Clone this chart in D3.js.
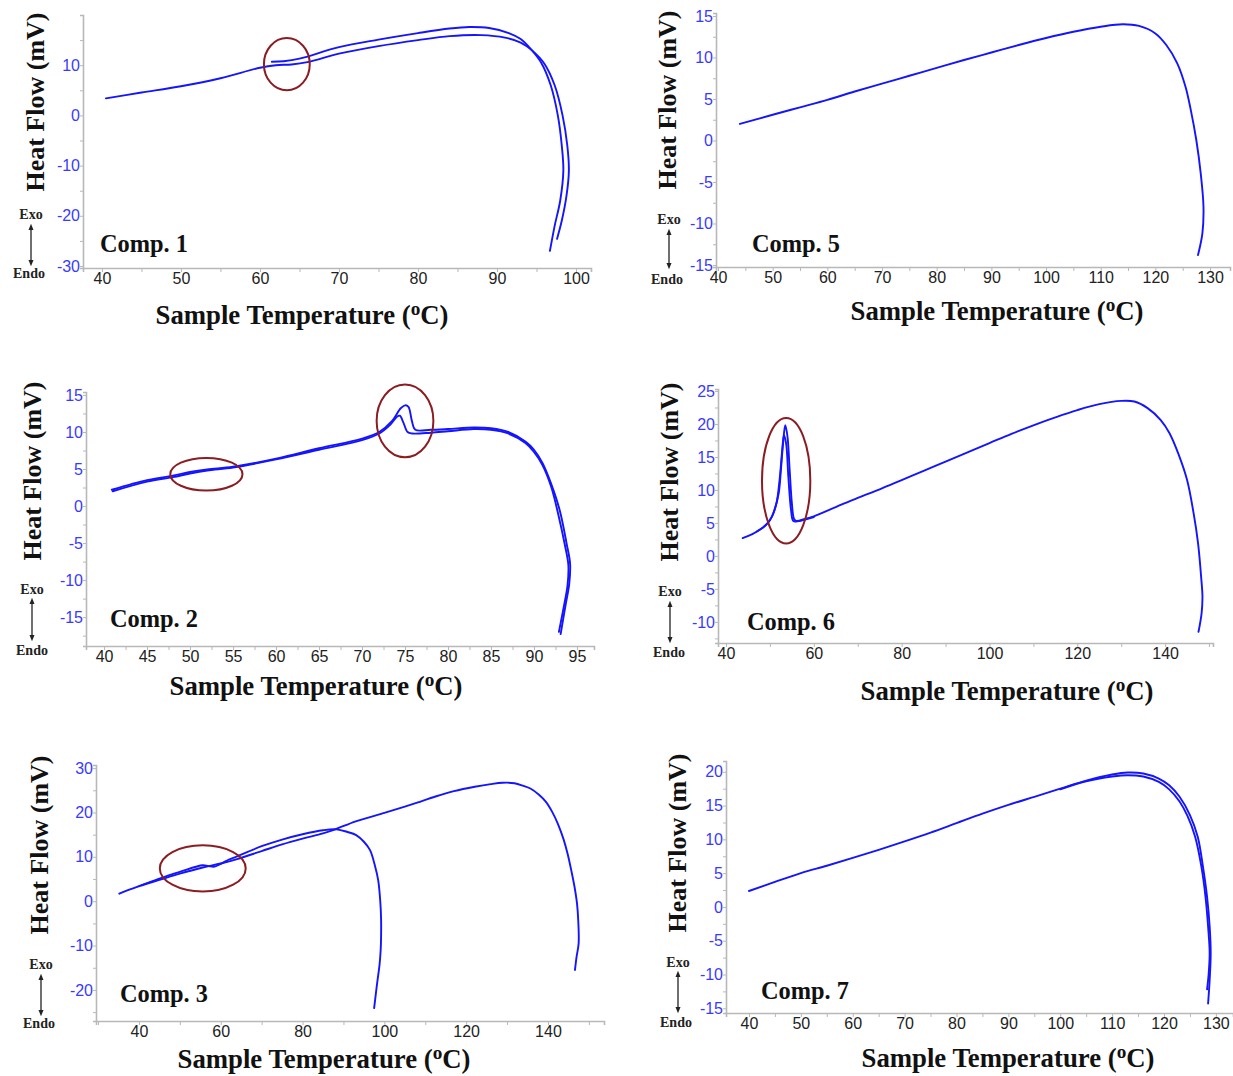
<!DOCTYPE html>
<html><head><meta charset="utf-8">
<script src="https://cdn.jsdelivr.net/npm/d3@7"></script>
<style>body{margin:0;background:#fff}</style>
</head><body>
<svg id="c" width="1233" height="1076"></svg>
<script>
// ---------------- DATA ----------------
// Comp. 1
const comp1XTicks = [40,50,60,70,80,90,100];
const comp1YTicks = [-30,-20,-10,0,10];
const comp1RunA = [[40.5,3.4],[45,4.55],[50,5.8],[55,7.4],[60,9.5],[62,10.0],[64,10.15],[66,10.6],[70,12.3],[75,13.8],[80,15.0],[84,15.8],[88,16.0],[91,15.5],[93,14.5],[94.4,13],[96,10.3],[97.3,6],[98.3,0],[98.9,-6],[99.1,-11],[98.8,-16],[98.2,-21],[97.6,-24.6]];
const comp1RunB = [[61.5,10.7],[63,10.8],[65,11.3],[70,13.6],[75,15.1],[80,16.4],[84,17.3],[86.5,17.6],[89,17.4],[91.5,16.4],[93,15.2],[94.4,13],[95.6,10.5],[96.8,6],[97.7,0],[98.2,-6],[98.4,-11],[98.0,-17],[97.3,-22],[96.7,-27]];
const comp1Marks = [[63.4,10.2,2.9,5.2]];

// Comp. 5
const comp5XTicks = [40,50,60,70,80,90,100,110,120,130];
const comp5YTicks = [-15,-10,-5,0,5,10,15];
const comp5RunA = [[44,2.0],[50,3.1],[55,4.0],[60,4.9],[65,5.9],[70,6.85],[75,7.8],[80,8.75],[85,9.7],[90,10.6],[95,11.5],[100,12.35],[105,13.1],[110,13.7],[114,14.0],[117,13.8],[120,12.9],[122,11.5],[124,9.3],[125.5,6.5],[126.5,3.6],[127.5,0],[128.3,-4],[128.8,-8],[128.6,-11.2],[127.8,-13.8]];
const comp5Marks = [];

// Comp. 2
const comp2XTicks = [40,45,50,55,60,65,70,75,80,85,90,95];
const comp2YTicks = [-15,-10,-5,0,5,10,15];
const comp2RunA = [[40.9,2.2],[45,3.5],[48,4.1],[50,4.6],[52,4.95],[55,5.3],[60,6.4],[65,7.8],[70,9.1],[72,10.0],[73.5,11.5],[74.5,13.2],[75,13.6],[75.4,13.4],[75.8,11.5],[76.2,10.3],[78,10.3],[80,10.4],[83,10.6],[85,10.5],[87,10.0],[89,8.7],[90,7.6],[91,5.8],[92,3.0],[93,-0.6],[93.8,-5.1],[94.2,-7.8],[94.1,-10.5],[93.7,-13.2],[93.1,-17.3]];
const comp2RunB = [[41,2.0],[45,3.3],[48,3.9],[50,4.4],[52,4.8],[55,5.2],[60,6.3],[65,7.6],[70,8.9],[72,9.8],[73.3,11],[74.1,12.1],[74.4,12.2],[74.8,11.3],[75.3,10.0],[75.8,9.8],[78,9.9],[80,10.1],[83,10.4],[85,10.3],[87,9.8],[89,8.5],[90,7.3],[91,5.5],[92,2.6],[92.8,-1],[93.6,-5.3],[94.0,-8],[93.9,-10.7],[93.5,-13.4],[92.9,-17.0]];
const comp2Marks = [[51.9,4.3,4.2,2.2],[75.0,11.5,3.3,4.9]];

// Comp. 6
const comp6XTicks = [40,60,80,100,120,140];
const comp6YTicks = [-10,-5,0,5,10,15,20,25];
const comp6RunA = [[43.8,2.7],[46,3.3],[48,4.1],[50,5.4],[51,6.9],[52,9.5],[52.5,13.0],[53,17.1],[53.5,19.8],[54,18.1],[54.5,13.0],[55,8.0],[55.5,5.6],[56,5.3],[58,5.6],[60,6.0],[65,7.4],[70,8.8],[75,10.1],[80,11.5],[85,12.9],[90,14.3],[95,15.7],[100,17.1],[105,18.5],[110,19.8],[115,21.0],[120,22.1],[125,23.0],[130,23.5],[133,23.4],[136,22.4],[139,20.6],[141,18.6],[143,15.5],[145,11.5],[146.5,6.4],[147.5,1.9],[148.2,-3.2],[148.5,-6.2],[148.3,-8.7],[147.6,-11.5]];
const comp6RunB = [[47,3.7],[49,4.6],[50.5,6.0],[51.5,8.0],[52.2,11.5],[52.8,16.0],[53.2,18.3],[53.7,17.0],[54.2,12.0],[54.8,7.0],[55.3,5.3],[56,5.2],[58,5.5],[60,5.9]];
const comp6Marks = [[53.7,11.4,5.5,9.5]];

// Comp. 3
const comp3XTicks = [40,60,80,100,120,140];
const comp3YTicks = [-20,-10,0,10,20,30];
const comp3RunA = [[35.2,1.7],[38,2.7],[40.7,3.6],[45,5.1],[50,6.6],[55.6,8.1],[57,7.9],[58.5,7.8],[60,8.4],[62,9.4],[64,10.1],[70,12.4],[75,13.9],[80,15.1],[85,16.0],[88.3,16.2],[91,15.6],[93.1,14.9],[95,13.4],[96.5,11.5],[97.7,8],[98.5,4.7],[99.0,0],[99.2,-4],[99.2,-8],[99.1,-11],[98.8,-14.5],[98.3,-18],[97.9,-21],[97.5,-24.1]];
const comp3RunB = [[40.7,3.6],[45,4.8],[50,6.2],[55.6,7.6],[60,8.5],[64,9.5],[70,11.3],[75,12.8],[80,14.1],[85,15.3],[88,16.2],[93,18.0],[100,19.9],[105,21.3],[108,22.2],[112.5,23.6],[117,24.8],[122.1,25.8],[126,26.4],[128.9,26.7],[131.8,26.6],[134,26.0],[135.7,25.4],[137.8,24.0],[139.5,22.4],[141,20.2],[142.4,17.5],[143.8,14],[144.8,10.7],[145.8,6.5],[146.5,3.2],[147.1,-0.5],[147.4,-4.3],[147.5,-9.5],[147.0,-12.5],[146.6,-15.5]];
const comp3Marks = [[55.6,7.4,10.5,5.2]];

// Comp. 7
const comp7XTicks = [40,50,60,70,80,90,100,110,120,130];
const comp7YTicks = [-15,-10,-5,0,5,10,15,20];
const comp7RunA = [[40,2.36],[45,3.7],[50,5.0],[55,6.1],[60,7.25],[65,8.45],[70,9.7],[75,11.0],[80,12.4],[85,13.8],[90,15.1],[95,16.3],[100,17.5],[105,18.7],[110,19.6],[113,19.9],[116,19.75],[119,19.0],[121,18.0],[123,16.3],[125,13.6],[126.5,10.4],[127.5,6.0],[128.3,1.5],[128.8,-2.9],[129,-6.9],[128.8,-10.8],[128.5,-14.3]];
const comp7RunB = [[100,17.4],[105,18.6],[110,19.3],[113,19.5],[116,19.3],[119,18.5],[121,17.4],[123,15.6],[124.5,13.5],[126,10.4],[127.2,6.0],[128,1.5],[128.5,-2.9],[128.8,-6.9],[128.6,-10.0],[128.3,-12.2]];
const comp7Marks = [];

const panelNames = ["Comp. 1","Comp. 5","Comp. 2","Comp. 6","Comp. 3","Comp. 7"];
const yTitle = "Heat Flow (mV)";
const xTitleMain = "Sample Temperature (";
const xTitleSup = "o";
const xTitleEnd = "C)";

// ---------------- LAYOUT ----------------
const panels = [
  {name:panelNames[0], runs:[comp1RunA,comp1RunB], xt:comp1XTicks, yt:comp1YTicks, marks:comp1Marks,
   xd:[37.6,101.9], xr:[83,591], yd:[-30.4,20], yr:[268,15], xMinor:5, yMinor:5,
   yTitle:[35,102], xTitle:[302,324], comp:[100,252], exo:[31,219], endo:[29,278], arrow:[225,265]},
  {name:panelNames[1], runs:[comp5RunA], xt:comp5XTicks, yt:comp5YTicks, marks:comp5Marks,
   xd:[39.63,133.65], xr:[716,1230], yd:[-15.24,15.36], yr:[267,13], xMinor:5, yMinor:2.5,
   yTitle:[667,100], xTitle:[997,320], comp:[752,252], exo:[669,224], endo:[667,284], arrow:[230,268]},
  {name:panelNames[2], runs:[comp2RunA,comp2RunB], xt:comp2XTicks, yt:comp2YTicks, marks:comp2Marks,
   xd:[37.9,96.98], xr:[86,594], yd:[-18.9,15.4], yr:[646,392], xMinor:2.5, yMinor:2.5,
   yTitle:[32,471], xTitle:[316,695], comp:[110,627], exo:[32,594], endo:[32,655], arrow:[599,640]},
  {name:panelNames[3], runs:[comp6RunA,comp6RunB], xt:comp6XTicks, yt:comp6YTicks, marks:comp6Marks,
   xd:[38.18,150.9], xr:[718,1213], yd:[-13.2,25.3], yr:[643,389], xMinor:10, yMinor:2.5,
   yTitle:[669,472], xTitle:[1007,700], comp:[747,630], exo:[670,596], endo:[669,657], arrow:[602,642]},
  {name:panelNames[4], runs:[comp3RunA,comp3RunB], xt:comp3XTicks, yt:comp3YTicks, marks:comp3Marks,
   xd:[29.5,153.7], xr:[96,604], yd:[-27,30.7], yr:[1021,765], xMinor:10, yMinor:5,
   yTitle:[39,845], xTitle:[324,1068], comp:[120,1002], exo:[41,969], endo:[39,1028], arrow:[975,1015]},
  {name:panelNames[5], runs:[comp7RunA,comp7RunB], xt:comp7XTicks, yt:comp7YTicks, marks:comp7Marks,
   xd:[35.57,133.3], xr:[726,1233], yd:[-15.7,21.6], yr:[1013,761], xMinor:5, yMinor:2.5,
   yTitle:[677,843], xTitle:[1008,1067], comp:[761,999], exo:[678,967], endo:[676,1027], arrow:[972,1012]}
];

const svg = d3.select("#c");
const serif = "'Liberation Serif','Times New Roman',serif";
const sans = "'Liberation Sans',Arial,sans-serif";
const lineColor = "#1414ff";
const tickBlue = "#3a3aff";
const axisGray = "#b8b8b8";

svg.append("defs").append("marker").attr("id","ah").attr("viewBox","0 0 10 10")
  .attr("refX",5).attr("refY",5).attr("markerWidth",5).attr("markerHeight",6).attr("orient","auto-start-reverse")
  .append("path").attr("d","M0,1 L10,5 L0,9 Z").attr("fill","#222");

function fitWidth(sel, target){
  const w = sel.node().getBBox().width;
  const fs = parseFloat(sel.attr("font-size"));
  sel.attr("font-size", fs*target/w);
}
const fmt = d => String(d);

panels.forEach(p => {
  const x = d3.scaleLinear().domain(p.xd).range(p.xr);
  const y = d3.scaleLinear().domain(p.yd).range(p.yr);
  const g = svg.append("g");

  // minor ticks
  const xMin = d3.range(Math.ceil(p.xd[0]/p.xMinor)*p.xMinor, p.xd[1]+1e-9, p.xMinor);
  const yMin = d3.range(Math.ceil(p.yd[0]/p.yMinor)*p.yMinor, p.yd[1]+1e-9, p.yMinor);
  const xAx = d3.axisBottom(x).tickValues(xMin).tickSize(4).tickFormat("");
  const yAx = d3.axisLeft(y).tickValues(yMin).tickSize(3).tickFormat("");
  const gx = g.append("g").attr("transform",`translate(0,${p.yr[0]})`).call(xAx);
  const gy = g.append("g").attr("transform",`translate(${p.xr[0]},0)`).call(yAx);
  [gx,gy].forEach(a=>{
    a.selectAll("path").attr("stroke",axisGray).attr("stroke-width",1.6);
    a.selectAll("line").attr("stroke",axisGray).attr("stroke-width",1);
  });
  // labels
  const gxl = g.append("g").attr("transform",`translate(0,${p.yr[0]})`)
    .call(d3.axisBottom(x).tickValues(p.xt).tickSize(0).tickPadding(5).tickFormat(fmt));
  gxl.select(".domain").remove();
  gxl.selectAll("text").attr("font-family",sans).attr("font-size",16).attr("fill","#222");
  const gyl = g.append("g").attr("transform",`translate(${p.xr[0]},0)`)
    .call(d3.axisLeft(y).tickValues(p.yt).tickSize(0).tickPadding(3).tickFormat(fmt));
  gyl.select(".domain").remove();
  gyl.selectAll("text").attr("font-family",sans).attr("font-size",16).attr("fill",tickBlue);

  // curves
  const line = d3.line().x(d=>x(d[0])).y(d=>y(d[1])).curve(d3.curveCatmullRom.alpha(0.5));
  p.runs.forEach(r=>{
    g.append("path").attr("d",line(r)).attr("fill","none").attr("stroke",lineColor)
     .attr("stroke-width",1.9).attr("stroke-linejoin","round").attr("stroke-linecap","round");
  });

  // annotation ellipses
  p.marks.forEach(m=>{
    g.append("ellipse").attr("cx",x(m[0])).attr("cy",y(m[1]))
     .attr("rx",Math.abs(x(m[0]+m[2])-x(m[0]))).attr("ry",Math.abs(y(m[1]+m[3])-y(m[1])))
     .attr("fill","none").attr("stroke","#8b1c22").attr("stroke-width",2);
  });

  // titles
  const yt = g.append("text").attr("transform",`translate(${p.yTitle[0]},${p.yTitle[1]}) rotate(-90)`)
    .attr("text-anchor","middle").attr("dominant-baseline","central")
    .attr("font-family",serif).attr("font-weight","bold").attr("font-size",24).attr("fill","#111").text(yTitle);
  fitWidth(yt,179);
  const xtl = g.append("text").attr("x",p.xTitle[0]).attr("y",p.xTitle[1]).attr("text-anchor","middle")
    .attr("font-family",serif).attr("font-weight","bold").attr("font-size",24).attr("fill","#111");
  xtl.append("tspan").text(xTitleMain);
  xtl.append("tspan").attr("dy",-9).attr("font-size","0.72em").text(xTitleSup);
  xtl.append("tspan").attr("dy",9).text(xTitleEnd);
  fitWidth(xtl,293);
  const ct = g.append("text").attr("x",p.comp[0]).attr("y",p.comp[1])
    .attr("font-family",serif).attr("font-weight","bold").attr("font-size",22).attr("fill","#111").text(p.name);
  fitWidth(ct,88);
  g.append("text").attr("x",p.exo[0]).attr("y",p.exo[1]).attr("text-anchor","middle")
    .attr("font-family",serif).attr("font-weight","bold").attr("font-size",14).attr("fill","#222").text("Exo");
  g.append("text").attr("x",p.endo[0]).attr("y",p.endo[1]).attr("text-anchor","middle")
    .attr("font-family",serif).attr("font-weight","bold").attr("font-size",14).attr("fill","#222").text("Endo");
  g.append("line").attr("x1",p.exo[0]).attr("x2",p.exo[0]).attr("y1",p.arrow[0]+2).attr("y2",p.arrow[1]-2)
    .attr("stroke","#222").attr("stroke-width",1.3)
    .attr("marker-start","url(#ah)").attr("marker-end","url(#ah)");
});
</script>
</body></html>
